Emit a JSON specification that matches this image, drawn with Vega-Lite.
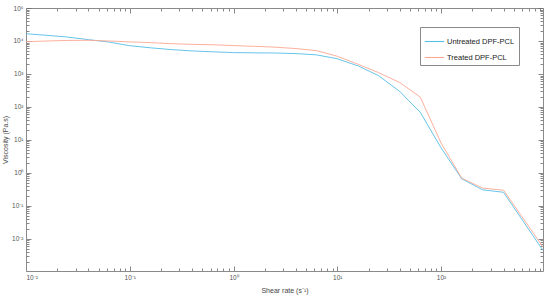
{
  "$schema": "https://vega.github.io/schema/vega-lite/v6.json",
  "width": 517,
  "height": 263,
  "autosize": "none",
  "padding": {"left": 26, "top": 8, "right": 7, "bottom": 28},
  "background": "white",
  "config": {
    "view": {"stroke": null},
    "font": "Liberation Sans",
    "axis": {"grid": false, "domainColor": "#8a8a8a", "tickColor": "#6a6a6a", "labelColor": "#555555", "titleColor": "#444444", "labelFontSize": 6.5, "titleFontSize": 7, "titleFontWeight": "normal", "domainWidth": 1, "tickWidth": 0.8}
  },
  "data": {"values": [
    {"rate": 0.01, "v": 16600, "s": "Untreated DPF-PCL"},
    {"rate": 0.016, "v": 14800, "s": "Untreated DPF-PCL"},
    {"rate": 0.025, "v": 13200, "s": "Untreated DPF-PCL"},
    {"rate": 0.04, "v": 11000, "s": "Untreated DPF-PCL"},
    {"rate": 0.063, "v": 9300, "s": "Untreated DPF-PCL"},
    {"rate": 0.1, "v": 7200, "s": "Untreated DPF-PCL"},
    {"rate": 0.16, "v": 6200, "s": "Untreated DPF-PCL"},
    {"rate": 0.25, "v": 5500, "s": "Untreated DPF-PCL"},
    {"rate": 0.4, "v": 5000, "s": "Untreated DPF-PCL"},
    {"rate": 0.63, "v": 4700, "s": "Untreated DPF-PCL"},
    {"rate": 1, "v": 4450, "s": "Untreated DPF-PCL"},
    {"rate": 1.6, "v": 4370, "s": "Untreated DPF-PCL"},
    {"rate": 2.5, "v": 4330, "s": "Untreated DPF-PCL"},
    {"rate": 4, "v": 4150, "s": "Untreated DPF-PCL"},
    {"rate": 6.3, "v": 3800, "s": "Untreated DPF-PCL"},
    {"rate": 10, "v": 2900, "s": "Untreated DPF-PCL"},
    {"rate": 16, "v": 1740, "s": "Untreated DPF-PCL"},
    {"rate": 25, "v": 890, "s": "Untreated DPF-PCL"},
    {"rate": 40, "v": 295, "s": "Untreated DPF-PCL"},
    {"rate": 63, "v": 69, "s": "Untreated DPF-PCL"},
    {"rate": 100, "v": 5.8, "s": "Untreated DPF-PCL"},
    {"rate": 158, "v": 0.67, "s": "Untreated DPF-PCL"},
    {"rate": 250, "v": 0.31, "s": "Untreated DPF-PCL"},
    {"rate": 400, "v": 0.26, "s": "Untreated DPF-PCL"},
    {"rate": 960, "v": 0.0045, "s": "Untreated DPF-PCL"},
    {"rate": 0.01, "v": 9500, "s": "Treated DPF-PCL"},
    {"rate": 0.016, "v": 10000, "s": "Treated DPF-PCL"},
    {"rate": 0.025, "v": 10400, "s": "Treated DPF-PCL"},
    {"rate": 0.04, "v": 10500, "s": "Treated DPF-PCL"},
    {"rate": 0.063, "v": 10000, "s": "Treated DPF-PCL"},
    {"rate": 0.1, "v": 9400, "s": "Treated DPF-PCL"},
    {"rate": 0.16, "v": 8900, "s": "Treated DPF-PCL"},
    {"rate": 0.25, "v": 8300, "s": "Treated DPF-PCL"},
    {"rate": 0.4, "v": 7900, "s": "Treated DPF-PCL"},
    {"rate": 0.63, "v": 7700, "s": "Treated DPF-PCL"},
    {"rate": 1, "v": 7250, "s": "Treated DPF-PCL"},
    {"rate": 1.6, "v": 6900, "s": "Treated DPF-PCL"},
    {"rate": 2.5, "v": 6500, "s": "Treated DPF-PCL"},
    {"rate": 4, "v": 5900, "s": "Treated DPF-PCL"},
    {"rate": 6.3, "v": 5100, "s": "Treated DPF-PCL"},
    {"rate": 10, "v": 3450, "s": "Treated DPF-PCL"},
    {"rate": 16, "v": 1950, "s": "Treated DPF-PCL"},
    {"rate": 25, "v": 1100, "s": "Treated DPF-PCL"},
    {"rate": 40, "v": 550, "s": "Treated DPF-PCL"},
    {"rate": 63, "v": 200, "s": "Treated DPF-PCL"},
    {"rate": 100, "v": 8.1, "s": "Treated DPF-PCL"},
    {"rate": 158, "v": 0.70, "s": "Treated DPF-PCL"},
    {"rate": 250, "v": 0.35, "s": "Treated DPF-PCL"},
    {"rate": 400, "v": 0.30, "s": "Treated DPF-PCL"},
    {"rate": 960, "v": 0.0057, "s": "Treated DPF-PCL"}
  ]},
  "layer": [
    {
      "mark": {"type": "line", "strokeWidth": 0.9, "clip": true},
      "encoding": {
        "x": {"field": "rate", "type": "quantitative",
          "scale": {"type": "log", "domain": [0.01, 960], "nice": false},
          "axis": {"title": "Shear rate (s⁻¹)", "titlePadding": 6,
            "values": [0.01,0.02,0.03,0.04,0.05,0.06,0.07,0.08,0.09,0.1,0.2,0.3,0.4,0.5,0.6,0.7,0.8,0.9,1,2,3,4,5,6,7,8,9,10,20,30,40,50,60,70,80,90,100,200,300,400,500,600,700,800,900],
            "labelExpr": "abs(log(datum.value)/LN10 - round(log(datum.value)/LN10)) < 0.001 ? '10' + ['⁻³','⁻²','⁻¹','⁰','¹','²','³','⁴','⁵'][round(log(datum.value)/LN10)+3] : ''",
            "tickSize": {"condition": {"test": "abs(log(datum.value)/LN10 - round(log(datum.value)/LN10)) < 0.001", "value": -5}, "value": -3},
            "labelPadding": 8}},
        "y": {"field": "v", "type": "quantitative",
          "scale": {"type": "log", "domain": [0.00107, 100000], "nice": false},
          "axis": {"title": "Viscosity (Pa.s)", "titlePadding": 3,
            "values": [0.002,0.003,0.004,0.005,0.006,0.007,0.008,0.009,0.01,0.02,0.03,0.04,0.05,0.06,0.07,0.08,0.09,0.1,0.2,0.3,0.4,0.5,0.6,0.7,0.8,0.9,1,2,3,4,5,6,7,8,9,10,20,30,40,50,60,70,80,90,100,200,300,400,500,600,700,800,900,1000,2000,3000,4000,5000,6000,7000,8000,9000,10000,20000,30000,40000,50000,60000,70000,80000,90000,100000],
            "labelExpr": "abs(log(datum.value)/LN10 - round(log(datum.value)/LN10)) < 0.001 ? '10' + ['⁻³','⁻²','⁻¹','⁰','¹','²','³','⁴','⁵'][round(log(datum.value)/LN10)+3] : ''",
            "tickSize": {"condition": {"test": "abs(log(datum.value)/LN10 - round(log(datum.value)/LN10)) < 0.001", "value": -5}, "value": -3},
            "labelPadding": 8}},
        "color": {"field": "s", "type": "nominal",
          "scale": {"domain": ["Untreated DPF-PCL", "Treated DPF-PCL"], "range": ["#55bde6", "#fca792"]},
          "legend": {"title": null, "orient": "none", "legendX": 394, "legendY": 19, "symbolType": "stroke", "symbolSize": 380, "symbolStrokeWidth": 1.1, "labelFontSize": 7.5, "labelColor": "#222222", "strokeColor": "#8a8a8a", "fillColor": "white", "padding": 4, "rowPadding": 2, "labelOffset": 2}}
      }
    },
    {
      "mark": {"type": "line", "opacity": 0},
      "encoding": {
        "x": {"field": "rate", "type": "quantitative",
          "axis": {"orient": "top", "title": null, "labels": false,
            "values": [0.01,0.02,0.03,0.04,0.05,0.06,0.07,0.08,0.09,0.1,0.2,0.3,0.4,0.5,0.6,0.7,0.8,0.9,1,2,3,4,5,6,7,8,9,10,20,30,40,50,60,70,80,90,100,200,300,400,500,600,700,800,900],
            "tickSize": {"condition": {"test": "abs(log(datum.value)/LN10 - round(log(datum.value)/LN10)) < 0.001", "value": -5}, "value": -3}}},
        "y": {"field": "v", "type": "quantitative",
          "axis": {"orient": "right", "title": null, "labels": false,
            "values": [0.002,0.003,0.004,0.005,0.006,0.007,0.008,0.009,0.01,0.02,0.03,0.04,0.05,0.06,0.07,0.08,0.09,0.1,0.2,0.3,0.4,0.5,0.6,0.7,0.8,0.9,1,2,3,4,5,6,7,8,9,10,20,30,40,50,60,70,80,90,100,200,300,400,500,600,700,800,900,1000,2000,3000,4000,5000,6000,7000,8000,9000,10000,20000,30000,40000,50000,60000,70000,80000,90000,100000],
            "tickSize": {"condition": {"test": "abs(log(datum.value)/LN10 - round(log(datum.value)/LN10)) < 0.001", "value": -5}, "value": -3}}},
        "detail": {"field": "s", "type": "nominal"}
      }
    }
  ],
  "resolve": {"axis": {"x": "independent", "y": "independent"}}
}
